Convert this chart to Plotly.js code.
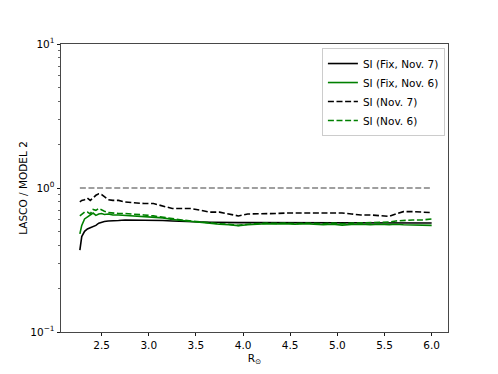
<!DOCTYPE html>
<html>
<head>
<meta charset="utf-8">
<script src="https://cdn.plot.ly/plotly-3.0.1.min.js"></script>
<style>
  body { margin: 0; background: #fff; }
  #graph { width: 498px; height: 374px; }
</style>
</head>
<body>
<div id="graph"></div>
<script>
// radius grid (solar radii) shared by every curve
var radius = [2.27, 2.29, 2.32, 2.35, 2.38, 2.41, 2.44, 2.47, 2.50, 2.53, 2.57, 2.62, 2.68, 2.75,
  2.85, 2.95, 3.05, 3.15, 3.25, 3.35, 3.45, 3.55, 3.65, 3.75, 3.85, 3.95, 4.05, 4.15, 4.25, 4.35,
  4.45, 4.55, 4.65, 4.75, 4.85, 4.95, 5.05, 5.15, 5.25, 5.35, 5.45, 5.55, 5.62, 5.70, 5.80, 5.90, 6.00];

var siFixNov7 = [0.37, 0.46, 0.50, 0.52, 0.53, 0.54, 0.55, 0.57, 0.58, 0.585, 0.59, 0.59, 0.595, 0.60,
  0.60, 0.60, 0.60, 0.595, 0.59, 0.585, 0.58, 0.58, 0.578, 0.575, 0.575, 0.575, 0.575, 0.575, 0.578, 0.577,
  0.576, 0.577, 0.576, 0.575, 0.575, 0.576, 0.575, 0.574, 0.575, 0.574, 0.573, 0.574, 0.573, 0.573, 0.572, 0.572, 0.572];

var siFixNov6 = [0.48, 0.55, 0.61, 0.63, 0.65, 0.67, 0.645, 0.66, 0.665, 0.655, 0.66, 0.65, 0.65, 0.645,
  0.645, 0.635, 0.63, 0.62, 0.605, 0.595, 0.585, 0.575, 0.568, 0.56, 0.555, 0.548, 0.555, 0.56, 0.565, 0.562,
  0.566, 0.56, 0.565, 0.56, 0.555, 0.56, 0.552, 0.558, 0.56, 0.555, 0.56, 0.557, 0.56, 0.555, 0.553, 0.552, 0.55];

var siNov7 = [0.80, 0.82, 0.83, 0.85, 0.82, 0.86, 0.89, 0.91, 0.90, 0.87, 0.83, 0.82, 0.82, 0.80,
  0.79, 0.78, 0.78, 0.75, 0.72, 0.72, 0.72, 0.70, 0.68, 0.68, 0.66, 0.64, 0.66, 0.66, 0.66, 0.665,
  0.67, 0.67, 0.67, 0.675, 0.67, 0.67, 0.67, 0.66, 0.65, 0.65, 0.64, 0.635, 0.66, 0.685, 0.685, 0.68, 0.675];

var siNov6 = [0.64, 0.66, 0.68, 0.68, 0.66, 0.71, 0.70, 0.72, 0.70, 0.69, 0.675, 0.67, 0.665, 0.665,
  0.66, 0.65, 0.64, 0.625, 0.61, 0.60, 0.59, 0.58, 0.57, 0.565, 0.56, 0.55, 0.56, 0.565, 0.57, 0.568,
  0.57, 0.565, 0.57, 0.568, 0.565, 0.57, 0.565, 0.57, 0.572, 0.57, 0.575, 0.58, 0.59, 0.595, 0.60, 0.60, 0.61];

// unity reference line
var unityX = [2.27, 6.00];
var unityY = [1, 1];

var names = ["SI (Fix, Nov. 7)", "SI (Fix, Nov. 6)", "SI (Nov. 7)", "SI (Nov. 6)"];

var xTicks = [2.5, 3.0, 3.5, 4.0, 4.5, 5.0, 5.5, 6.0];
var yTicks = [0.1, 1, 10];
var yTickText = ["10<sup>\u22121</sup>", "10<sup>0</sup>", "10<sup>1</sup>"];
var yMinor = [0.2, 0.3, 0.4, 0.5, 0.6, 0.7, 0.8, 0.9, 2, 3, 4, 5, 6, 7, 8, 9];

var lw = 1.6;
var dashPat = "6px,2.6px";

var data = [
  {x: radius, y: siFixNov7, name: names[0], type: "scatter", mode: "lines",
   line: {color: "#000000", width: lw}},
  {x: radius, y: siFixNov6, name: names[1], type: "scatter", mode: "lines",
   line: {color: "#008000", width: lw}},
  {x: radius, y: siNov7, name: names[2], type: "scatter", mode: "lines",
   line: {color: "#000000", width: lw, dash: dashPat}},
  {x: radius, y: siNov6, name: names[3], type: "scatter", mode: "lines",
   line: {color: "#008000", width: lw, dash: dashPat}},
  {x: unityX, y: unityY, type: "scatter", mode: "lines", showlegend: false,
   line: {color: "#808080", width: lw, dash: dashPat}}
];

var axisFont = {family: "DejaVu Sans", size: 10.5, color: "#000"};

var layout = {
  width: 498,
  height: 374,
  margin: {l: 61, r: 50, t: 44, b: 42},
  paper_bgcolor: "#ffffff",
  plot_bgcolor: "#ffffff",
  font: axisFont,
  showlegend: true,
  legend: {
    x: 0.992, y: 0.986, xanchor: "right", yanchor: "top",
    bgcolor: "rgba(255,255,255,0.8)",
    bordercolor: "#cccccc", borderwidth: 1,
    font: {family: "DejaVu Sans", size: 10.5, color: "#000"},
    itemwidth: 30,
    tracegroupgap: 0
  },
  xaxis: {
    range: [2.07, 6.173],
    tickvals: xTicks,
    tickformat: ".1f",
    ticks: "outside", ticklen: 3.5, tickwidth: 0.9, tickcolor: "#000",
    showline: true, linecolor: "#333", linewidth: 0.9, mirror: true,
    showgrid: false, zeroline: false,
    title: {text: "R<sub>\u2299</sub>", font: axisFont, standoff: 4}
  },
  yaxis: {
    type: "log",
    range: [-1, 1],
    tickvals: yTicks,
    ticktext: yTickText,
    ticks: "outside", ticklen: 3.5, tickwidth: 0.9, tickcolor: "#000",
    minor: {tickvals: yMinor, ticks: "outside", ticklen: 2, tickwidth: 0.6, tickcolor: "#000", showgrid: false},
    showline: true, linecolor: "#333", linewidth: 0.9, mirror: true,
    showgrid: false, zeroline: false,
    title: {text: "LASCO / MODEL 2", font: axisFont, standoff: 0}
  }
};

Plotly.newPlot(document.getElementById("graph"), data, layout, {staticPlot: true});
</script>
</body>
</html>
